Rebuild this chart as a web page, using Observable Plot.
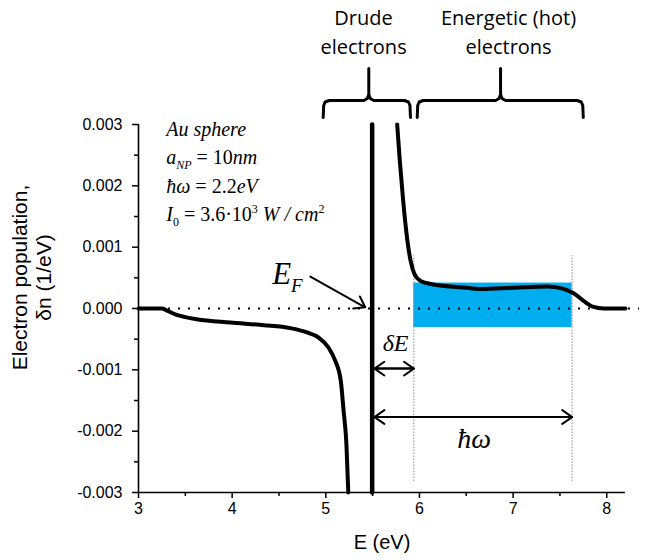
<!DOCTYPE html>
<html><head><meta charset="utf-8">
<script src="https://cdn.jsdelivr.net/npm/d3@7"></script>
<script src="https://cdn.jsdelivr.net/npm/@observablehq/plot@0.6"></script>
<style>body{margin:0;background:#fff}</style>
</head><body><div id="chart"></div>
<script>
// ---- data ----
const leftE  = [3.0, 3.25, 3.3, 3.4, 3.5, 3.62, 3.98, 4.34, 4.62, 4.80, 4.92, 5.03, 5.10, 5.16, 5.19, 5.22, 5.24];
const leftN  = [0, 0, -0.00003, -0.0001, -0.00014, -0.000174, -0.000228, -0.000272, -0.00032, -0.00039, -0.00047, -0.00064, -0.00085, -0.00118, -0.00167, -0.00221, -0.003];
const spikeE = [5.495, 5.495];
const spikeN = [-0.003, 0.003];
const rightE = [5.762, 5.79, 5.826, 5.862, 5.905, 5.947, 6.01, 6.12, 6.47, 6.65, 7.01, 7.37, 7.54, 7.65, 7.76, 7.85, 7.97, 8.2];
const rightN = [0.003, 0.00241, 0.00176, 0.00122, 0.00078, 0.00056, 0.00045, 0.0004, 0.000343, 0.000317, 0.00034, 0.00036, 0.00032, 0.000245, 0.000115, 0.00003, 0, 0];

const bandE = [5.94, 7.63];          // hot-electron window
const bandN = [-0.00031, 0.000415];
const guideE = [5.94, 7.63];         // thin dotted guides
const guideN = [-0.00282, 0.00086];
const deltaArrowE = [5.52, 5.94], deltaArrowN = -0.00098;
const hwArrowE = [5.52, 7.63], hwArrowN = -0.00177;
const efArrow = {x1: 4.835, y1: 0.00052, x2: 5.42, y2: 0.00002};

const xTicks = [3, 4, 5, 6, 7, 8];
const xMinor = [3.5, 4.5, 5.5, 6.5, 7.5];
const yTicks = [-0.003, -0.002, -0.001, 0, 0.001, 0.002, 0.003];
const yMinor = [-0.0025, -0.0015, -0.0005, 0.0005, 0.0015, 0.0025];

const infoLines = ["Au sphere", "aNP = 10nm", "ħω = 2.2eV", "I0 = 3.6·103 W / cm2"];
const groupLabels = ["Drude\nelectrons", "Energetic (hot)\nelectrons"];
const groupCenters = [5.403, 6.951];
const braces = [[4.972, 5.904, 5.459], [5.976, 7.749, 6.866]]; // [start, end, tip]

// ---- helpers ----
const W = 645, H = 560, mL = 138, mR = 20, mT = 124, mB = 68;
const kx = 5.2 / (W - mL - mR);        // data units per px (x)
const ky = 0.006 / (H - mT - mB);      // data units per px (y)

function bracePts(b, id) {
  const [x0, x1, xm] = b;
  const yE = 0.003 + 7 * ky, yH = 0.003 + 24 * ky, yT = 0.003 + 56 * ky;
  const pts = [
    [x0, yE], [x0 + 0.5 * kx, yH - 5 * ky], [x0 + 2 * kx, yH - 1.5 * ky], [x0 + 6 * kx, yH],
    [xm - 5 * kx, yH], [xm - 1.5 * kx, yH + 2 * ky], [xm, yH + 6 * ky], [xm, yT],
    [xm, yH + 6 * ky], [xm + 1.5 * kx, yH + 2 * ky], [xm + 5 * kx, yH],
    [x1 - 6 * kx, yH], [x1 - 2 * kx, yH - 1.5 * ky], [x1 - 0.5 * kx, yH - 5 * ky], [x1, yE]
  ];
  return pts.map(([x, y]) => ({x, y, id}));
}

const curve = [
  ...leftE.map((e, i) => ({E: e, n: leftN[i], seg: "left"})),
  ...rightE.map((e, i) => ({E: e, n: rightN[i], seg: "right"}))
];
const spike = spikeE.map((e, i) => ({E: e, n: spikeN[i]}));
const braceData = braces.flatMap((b, i) => bracePts(b, i));

const serif = "'Liberation Serif', 'Times New Roman', serif";

const plot = Plot.plot({
  width: W, height: H,
  marginLeft: mL, marginRight: mR, marginTop: mT, marginBottom: mB,
  x: {domain: [3, 8.2]},
  y: {domain: [-0.003, 0.003]},
  style: {background: "white", fontFamily: "'Liberation Sans', Arial, sans-serif", fontSize: "16px", overflow: "visible", color: "black"},
  marks: [
    Plot.rect([0], {x1: () => bandE[0], x2: () => bandE[1], y1: () => bandN[0], y2: () => bandN[1], fill: "#00aeef"}),
    Plot.ruleY([0], {x1: 3, x2: 8.35, stroke: "black", strokeWidth: 1.8, strokeDasharray: "2 8"}),
    Plot.ruleX(guideE, {y1: guideN[0], y2: guideN[1], stroke: "#888", strokeWidth: 1, strokeDasharray: "1.5 1.5"}),
    Plot.line(curve, {x: "E", y: "n", z: "seg", stroke: "black", strokeWidth: 4, curve: "monotone-x"}),
    Plot.line(spike, {x: "E", y: "n", stroke: "black", strokeWidth: 4.5}),
    // double arrows
    Plot.arrow([0, 1], {x1: d => deltaArrowE[d], x2: d => deltaArrowE[1 - d], y1: () => deltaArrowN, y2: () => deltaArrowN, stroke: "black", strokeWidth: 2, headLength: 9, headAngle: 70}),
    Plot.arrow([0, 1], {x1: d => hwArrowE[d], x2: d => hwArrowE[1 - d], y1: () => hwArrowN, y2: () => hwArrowN, stroke: "black", strokeWidth: 2, headLength: 9, headAngle: 70}),
    Plot.arrow([efArrow], {x1: "x1", y1: "y1", x2: "x2", y2: "y2", stroke: "black", strokeWidth: 2, headLength: 9, headAngle: 70}),
    // axes
    Plot.ruleX([3], {stroke: "black", strokeWidth: 1.6}),
    Plot.ruleY([-0.003], {stroke: "black", strokeWidth: 1.6}),
    Plot.axisX({ticks: xTicks, tickSize: 6, tickPadding: 4, tickFormat: d => String(d), label: null, fontSize: 16, strokeWidth: 1.5}),
    Plot.axisX({ticks: xMinor, tickSize: 4, text: null, label: null, strokeWidth: 1.5}),
    Plot.axisY({ticks: yTicks, tickSize: 6, tickPadding: 10, tickFormat: d => d.toFixed(3), label: null, fontSize: 16, strokeWidth: 1.5}),
    Plot.axisY({ticks: yMinor, tickSize: 4, text: null, label: null, strokeWidth: 1.5}),
    Plot.text(["E (eV)"], {frameAnchor: "bottom", dy: 56, lineAnchor: "bottom", fontSize: 20}),
    Plot.text(["Electron population,\nδn (1/eV)"], {frameAnchor: "left", dx: -107, dy: -31, rotate: -90, fontSize: 21, lineHeight: 1.12, lineAnchor: "middle", textAnchor: "middle"}),
    // annotations
    Plot.text(infoLines, {x: () => 3.296, y: (d, i) => 0.00282 - i * 28.5 * ky, textAnchor: "start", lineAnchor: "bottom", fontFamily: serif, fontStyle: "italic", fontSize: 20}),
    Plot.text(["EF"], {x: () => 4.427, y: () => 0.0004, textAnchor: "start", lineAnchor: "bottom", fontFamily: serif, fontStyle: "italic", fontSize: 31}),
    Plot.text(["δE"], {x: () => 5.745, y: () => -0.0007, textAnchor: "middle", lineAnchor: "bottom", fontFamily: serif, fontStyle: "italic", fontSize: 24}),
    Plot.text(["ħω"], {x: () => 6.585, y: () => -0.00227, textAnchor: "middle", lineAnchor: "bottom", fontFamily: serif, fontStyle: "italic", fontSize: 28}),
    Plot.line(braceData, {x: "x", y: "y", z: "id", stroke: "black", strokeWidth: 3, strokeLinejoin: "round"}),
    Plot.text(groupLabels, {x: (d, i) => groupCenters[i], y: () => (308 - 53.3) * ky, textAnchor: "middle", lineAnchor: "bottom", lineHeight: 1.465, fontFamily: "'Open Sans', Lato, sans-serif", fontSize: 20})
  ]
});

// rich text (subscripts / superscripts)
const rich = {
  "aNP = 10nm": 'a<tspan dy="5" font-size="12">NP</tspan><tspan dy="-5" font-style="normal"> = 10</tspan>nm',
  "ħω = 2.2eV": 'ħω<tspan font-style="normal"> = 2.2</tspan>eV',
  "I0 = 3.6·103 W / cm2": 'I<tspan dy="5" font-size="12" font-style="normal">0</tspan><tspan dy="-5" font-style="normal"> = 3.6·10</tspan><tspan dy="-8" font-size="12" font-style="normal">3</tspan><tspan dy="8"> W / cm</tspan><tspan dy="-8" font-size="12" font-style="normal">2</tspan>',
  "EF": 'E<tspan dy="8" font-size="19">F</tspan>'
};
d3.select(plot).selectAll("text").each(function() {
  const t = this.textContent;
  if (rich[t] && this.children.length === 0) this.innerHTML = rich[t];
});

document.getElementById("chart").appendChild(plot);
</script>
</body></html>
